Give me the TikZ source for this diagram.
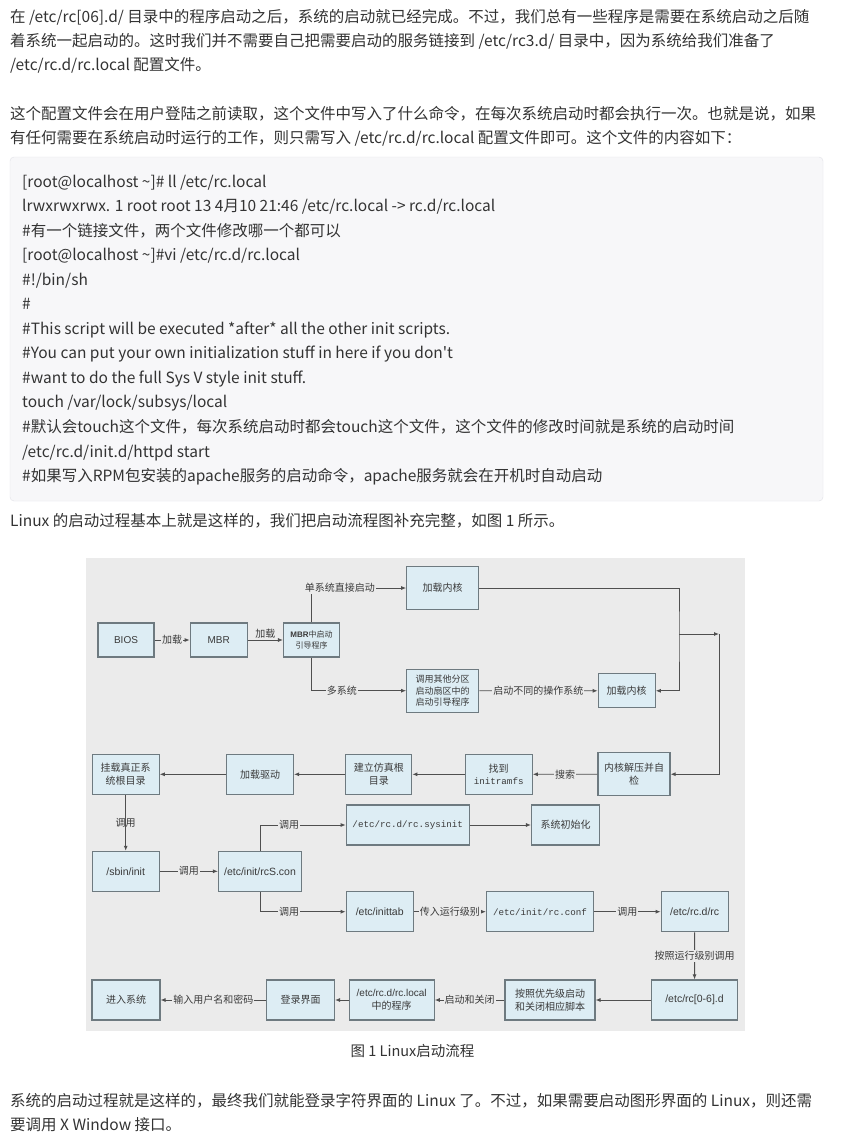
\documentclass[tikz,border=0pt]{standalone}
\usepackage{fontspec}
\setmainfont{Noto Sans CJK SC}
\newfontfamily\arialfont{Liberation Sans}
\newfontfamily\monofont{Liberation Mono}
\usetikzlibrary{arrows.meta}

\definecolor{bodytext}{HTML}{333333}
\definecolor{codebg}{HTML}{F7F7F9}
\definecolor{codeline}{HTML}{E1E1E8}
\definecolor{diagbg}{HTML}{EBEBEB}
\definecolor{boxfill}{HTML}{DDEDF4}
\definecolor{boxline}{HTML}{6E7A80}
\definecolor{arrline}{HTML}{4F4F4F}
\definecolor{diagtext}{HTML}{3A3A3A}

\begin{document}
\begin{tikzpicture}[x=1pt,y=-1pt,
  para/.style={anchor=base west,inner sep=0pt,text=bodytext,font=\fontsize{15.5}{18}\selectfont},
  box/.style={draw=boxline,fill=boxfill,line width=1.1pt,align=center,inner sep=1pt,
    text=diagtext,font=\fontsize{10}{12.5}\selectfont},
  lab/.style={fill=diagbg,inner sep=1pt,text=diagtext,font=\fontsize{10}{12}\selectfont},
  arr/.style={draw=arrline,line width=0.9pt,-{Latex[length=5pt,width=4pt]}},
  wire/.style={draw=arrline,line width=0.9pt}]
\useasboundingbox (0,0) rectangle (864,1141);
\fill[white] (0,0) rectangle (864,1141);

% page text above the code block
\node[para] (t1) at (10,22) {在 /etc/rc[06].d/ 目录中的程序启动之后，系统的启动就已经完成。不过，我们总有一些程序是需要在系统启动之后随};
\node[para] (t2) at (10,46) {着系统一起启动的。这时我们并不需要自己把需要启动的服务链接到 /etc/rc3.d/ 目录中，因为系统给我们准备了};
\node[para] (t3) at (10,70) {/etc/rc.d/rc.local 配置文件。};
\node[para] (t4) at (10,119) {这个配置文件会在用户登陆之前读取，这个文件中写入了什么命令，在每次系统启动时都会执行一次。也就是说，如果};
\node[para] (t5) at (10,143) {有任何需要在系统启动时运行的工作，则只需写入 /etc/rc.d/rc.local 配置文件即可。这个文件的内容如下：};

% code block
\draw[codeline,fill=codebg,rounded corners=4pt] (10,157) rectangle (823,501);
\foreach \txt [count=\i] in {%
  {[root@localhost \textasciitilde]\# ll /etc/rc.local},%
  {lrwxrwxrwx. 1 root root 13 4月10 21:46 /etc/rc.local -> rc.d/rc.local},%
  {\#有一个链接文件，两个文件修改哪一个都可以},%
  {[root@localhost \textasciitilde]\#vi /etc/rc.d/rc.local},%
  {\#!/bin/sh},%
  {\#},%
  {\#This script will be executed *after* all the other init scripts.},%
  {\#You can put your own initialization stuff in here if you don\textquotesingle t},%
  {\#want to do the full Sys V style init stuff.},%
  {touch /var/lock/subsys/local},%
  {\#默认会touch这个文件，每次系统启动时都会touch这个文件，这个文件的修改时间就是系统的启动时间},%
  {/etc/rc.d/init.d/httpd start},%
  {\#如果写入RPM包安装的apache服务的启动命令，apache服务就会在开机时自动启动}}{
  \node[para] (code\i) at (22,{187+(\i-1)*24.55}) {\txt};
}
\node[para] (t6) at (10,526) {Linux 的启动过程基本上就是这样的，我们把启动流程图补充完整，如图 1 所示。};

% flow chart
\fill[diagbg] (86,558) rectangle (745,1031);

\node[box,minimum width=56,minimum height=34] (bios) at (126,640) {\arialfont BIOS};
\node[box,minimum width=57,minimum height=34] (mbr) at (218.7,640) {\arialfont MBR};
\node[box,minimum width=56,minimum height=34,font=\fontsize{8}{10.5}\selectfont] (mbrboot) at (311.5,640) {{\arialfont\bfseries MBR}中启动\\引导程序};
\node[box,minimum width=72,minimum height=43] (kern1) at (442.7,588) {加载内核};
\node[box,minimum width=72,minimum height=43,font=\fontsize{9}{11.5}\selectfont] (other) at (442.7,690.7) {调用其他分区\\启动扇区中的\\启动引导程序};
\node[box,minimum width=57,minimum height=34] (kern2) at (626.7,690.8) {加载内核};

\node[box,minimum width=72,minimum height=43] (unpack) at (634,774.2) {内核解压并自\\检};
\node[box,minimum width=67,minimum height=40] (initramfs) at (498.7,774.3) {找到\\{\monofont\fontsize{9.2}{12}\selectfont initramfs}};
\node[box,minimum width=66,minimum height=40] (fakeroot) at (378.8,774.3) {建立仿真根\\目录};
\node[box,minimum width=67,minimum height=40] (driver) at (260,774.3) {加载驱动};
\node[box,minimum width=67,minimum height=40] (mountroot) at (125.7,774.3) {挂载真正系\\统根目录};

\node[box,minimum width=67,minimum height=40,font=\arialfont\fontsize{10.5}{12.5}\selectfont] (sbininit) at (125.7,871.3) {/sbin/init};
\node[box,minimum width=83,minimum height=40,font=\arialfont\fontsize{10.5}{12.5}\selectfont] (rcscon) at (260,871.3) {/etc/init/rcS.con};
\node[box,minimum width=123,minimum height=40,font=\monofont\fontsize{9.2}{12}\selectfont] (sysinit) at (407.7,825) {/etc/rc.d/rc.sysinit};
\node[box,minimum width=68,minimum height=40] (sysinitdone) at (565.5,825) {系统初始化};
\node[box,minimum width=67,minimum height=40,font=\arialfont\fontsize{10.5}{12.5}\selectfont] (inittab) at (379.7,911.7) {/etc/inittab};
\node[box,minimum width=107,minimum height=40,font=\monofont\fontsize{9.2}{12}\selectfont] (rcconf) at (540,911.7) {/etc/init/rc.conf};
\node[box,minimum width=67,minimum height=40,font=\arialfont\fontsize{10.5}{12.5}\selectfont] (rcd) at (694.7,911.7) {/etc/rc.d/rc};

\node[box,minimum width=86,minimum height=40,font=\arialfont\fontsize{10.5}{12.5}\selectfont] (rclevel) at (694.5,1000) {/etc/rc[0-6].d};
\node[box,minimum width=90,minimum height=40] (prio) at (550,1000) {按照优先级启动\\和关闭相应脚本};
\node[box,minimum width=85,minimum height=40] (rclocal) at (391.7,1000) {{\arialfont /etc/rc.d/rc.local}\\中的程序};
\node[box,minimum width=68,minimum height=40] (login) at (300.5,1000) {登录界面};
\node[box,minimum width=68,minimum height=40] (enter) at (126,1000) {进入系统};

\coordinate (kjoin) at (679,634);
\coordinate (kturn) at (719,634);

\draw[arr] (bios) -- node[lab] {加载} (mbr);
\draw[arr] (mbr) -- node[lab,above,fill=none] {加载} (mbrboot);
\draw[arr] (mbrboot.north) |- node[lab,pos=0.65] {单系统直接启动} (kern1.west);
\draw[arr] (mbrboot.south) |- node[lab,pos=0.66] {多系统} (other.west);
\draw[arr] (kern1.east) -| (kjoin) |- (kern2.east);
\draw[arr] (kjoin) -- (kturn);
\draw[arr] (kturn) |- (unpack.east);
\draw[arr] (other) -- node[lab] {启动不同的操作系统} (kern2);
\draw[arr] (unpack) -- node[lab] {搜索} (initramfs);
\draw[arr] (initramfs) -- (fakeroot);
\draw[arr] (fakeroot) -- (driver);
\draw[arr] (driver) -- (mountroot);
\draw[arr] (mountroot) -- node[lab,fill=none] {调用} (sbininit);
\draw[arr] (sbininit) -- node[lab] {调用} (rcscon);
\draw[arr] (rcscon.north) |- node[lab,pos=0.67] {调用} (sysinit.west);
\draw[arr] (rcscon.south) |- node[lab,pos=0.67] {调用} (inittab.west);
\draw[arr] (sysinit) -- (sysinitdone);
\draw[arr] (inittab) -- node[lab] {传入运行级别} (rcconf);
\draw[arr] (rcconf) -- node[lab] {调用} (rcd);
\draw[arr] (rcd) -- node[lab] {按照运行级别调用} (rclevel);
\draw[arr] (rclevel) -- (prio);
\draw[arr] (prio) -- node[lab] {启动和关闭} (rclocal);
\draw[arr] (rclocal) -- (login);
\draw[arr] (login) -- node[lab] {输入用户名和密码} (enter);

% caption and closing text
\node[para,anchor=base,font=\fontsize{14.5}{17}\selectfont] (cap) at (412.5,1056) {图 1 Linux启动流程};
\node[para] (t7) at (10,1106) {系统的启动过程就是这样的，最终我们就能登录字符界面的 Linux 了。不过，如果需要启动图形界面的 Linux，则还需};
\node[para] (t8) at (10,1130) {要调用 X Window 接口。};
\end{tikzpicture}
\end{document}
